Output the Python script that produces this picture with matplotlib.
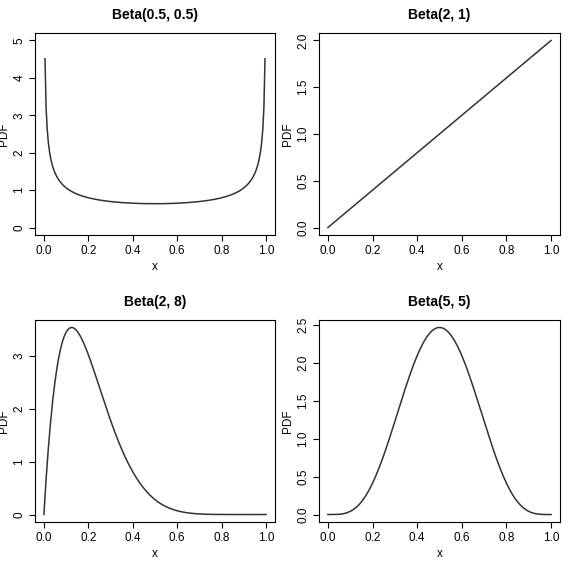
import numpy as np
import matplotlib
matplotlib.use("Agg")
import matplotlib.pyplot as plt
from math import gamma

plt.rcParams["font.family"] = ["Liberation Sans", "DejaVu Sans"]

alphas = [0.5, 2, 2, 5]
betas = [0.5, 1, 8, 5]
titles = ["Beta(0.5, 0.5)", "Beta(2, 1)", "Beta(2, 8)", "Beta(5, 5)"]
yticks = [[0, 1, 2, 3, 4, 5], [0.0, 0.5, 1.0, 1.5, 2.0],
          [0, 1, 2, 3], [0.0, 0.5, 1.0, 1.5, 2.0, 2.5]]
ytop = [5.0, None, None, None]  # fixed upper y-limit where the reference uses one
xticks = [0.0, 0.2, 0.4, 0.6, 0.8, 1.0]

# panel boxes in pixels: left, top, right, bottom
boxes = [(35, 33, 275, 235), (319, 33, 560, 235),
         (35, 320, 275, 522), (319, 320, 560, 522)]

W, H = 580, 571
fig = plt.figure(figsize=(W / 100, H / 100), dpi=100)

for i in range(4):
    l, t, r, b = boxes[i]
    ax = fig.add_axes([l / W, 1 - b / H, (r - l) / W, (b - t) / H])
    a, bb = alphas[i], betas[i]
    x = np.linspace(0.005, 0.995, 199) if a < 1 else np.linspace(0, 1, 201)
    coef = gamma(a + bb) / (gamma(a) * gamma(bb))
    y = coef * x ** (a - 1) * (1 - x) ** (bb - 1)
    ax.plot(x, y, color="#333333", lw=1.1)
    ymin = 0
    ymax = ytop[i] if ytop[i] is not None else y.max()
    pad = 0.04 * (ymax - ymin)
    ax.set_xlim(-0.04, 1.04)
    ax.set_ylim(ymin - pad, ymax + pad)
    ax.set_xticks(xticks)
    ax.set_xticklabels([f"{v:.1f}" for v in xticks])
    ax.set_yticks(yticks[i])
    ax.set_yticklabels([str(v) for v in yticks[i]], rotation=90, va="center")
    ax.tick_params(direction="out", length=4, pad=3, labelsize=8.5, width=0.8)
    ax.set_xlabel("x", fontsize=8.5, labelpad=3)
    ax.set_ylabel("PDF", fontsize=8.5, labelpad=2)
    ax.set_title(titles[i], fontsize=10, fontweight="bold", pad=10)
    for s in ax.spines.values():
        s.set_linewidth(0.8)

fig.savefig("out.png", dpi=100)
